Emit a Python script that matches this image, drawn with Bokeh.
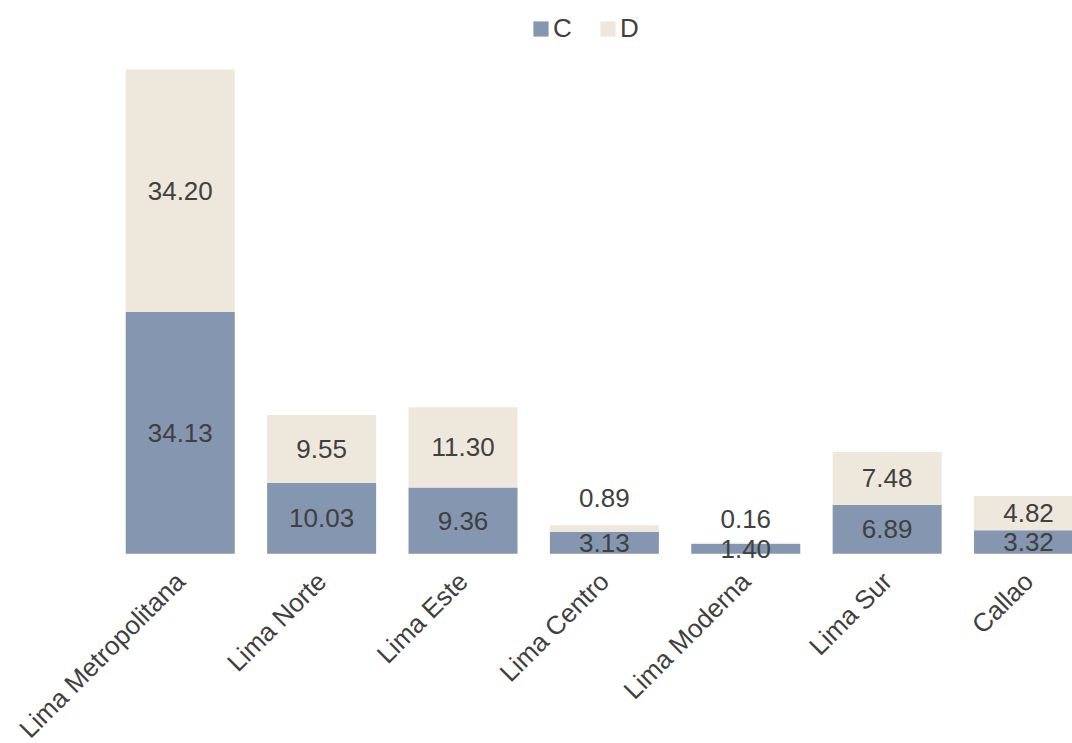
import math
from bokeh.plotting import figure
from bokeh.models import ColumnDataSource, FixedTicker, Range1d, Legend, LegendItem
from bokeh.core.properties import value
from bokeh.embed import file_html
from bokeh.resources import INLINE

categories = ["Lima Metropolitana", "Lima Norte", "Lima Este", "Lima Centro",
              "Lima Moderna", "Lima Sur", "Callao"]
series_c = [34.13, 10.03, 9.36, 3.13, 1.40, 6.89, 3.32]
series_d = [34.20, 9.55, 11.30, 0.89, 0.16, 7.48, 4.82]
c_labels = ["34.13", "10.03", "9.36", "3.13", "1.40", "6.89", "3.32"]
d_labels = ["34.20", "9.55", "11.30", "0.89", "0.16", "7.48", "4.82"]
# extra upward shift (px) of D labels where the segment is too thin
d_label_shift = [0, 0, 0, 30, 24, 0, 0]

COL_C = "#8496B0"
COL_D = "#EEE7DB"
TXT = "#404040"
FONT = "Liberation Sans"

xs = list(range(len(categories)))
src = ColumnDataSource(dict(
    x=xs, C=series_c, D=series_d,
    yc=[c / 2 for c in series_c],
    yd=[c + d / 2 for c, d in zip(series_c, series_d)],
    lc=c_labels, ld=d_labels, sh=[-s for s in d_label_shift],
))

p = figure(width=1072, height=743, output_backend="svg", toolbar_location=None,
           x_range=Range1d(-1.2715, 6.311), y_range=Range1d(-26.76, 78.06),
           min_border_left=0, min_border_right=0, min_border_top=0,
           min_border_bottom=0)
p.outline_line_color = None
p.grid.visible = False
p.yaxis.visible = False

r = p.vbar_stack(["C", "D"], x="x", width=0.771, color=[COL_C, COL_D],
                 line_color=None, source=src)

p.text(x="x", y="yc", text="lc", source=src, text_font=value(FONT),
       text_font_size="26px", text_color=TXT, text_align="center",
       text_baseline="middle")
p.text(x="x", y="yd", text="ld", source=src, text_font=value(FONT),
       text_font_size="26px", text_color=TXT, text_align="center",
       text_baseline="middle", y_offset="sh")

ax = p.xaxis[0]
ax.fixed_location = 0
ax.ticker = FixedTicker(ticks=xs)
ax.major_label_overrides = {i: c for i, c in zip(xs, categories)}
ax.major_label_orientation = math.pi / 4
ax.major_label_text_font = FONT
ax.major_label_text_font_size = "26px"
ax.major_label_text_color = TXT
ax.major_label_standoff = 23
ax.major_tick_out = 0
ax.major_tick_in = 0
ax.minor_tick_out = 0
ax.minor_tick_in = 0
ax.axis_line_color = None
ax.major_tick_line_color = None
ax.minor_tick_line_color = None

legend = Legend(items=[LegendItem(label="C", renderers=[r[0]]),
                       LegendItem(label="D", renderers=[r[1]])],
                orientation="horizontal", location=(531, 699),
                glyph_width=19, glyph_height=19, label_standoff=3, spacing=25,
                label_text_font=FONT, label_text_font_size="26px",
                label_text_color=TXT, background_fill_alpha=0,
                border_line_color=None, margin=0, padding=4)
p.add_layout(legend)

open("out.html", "w").write(file_html(p, INLINE))
